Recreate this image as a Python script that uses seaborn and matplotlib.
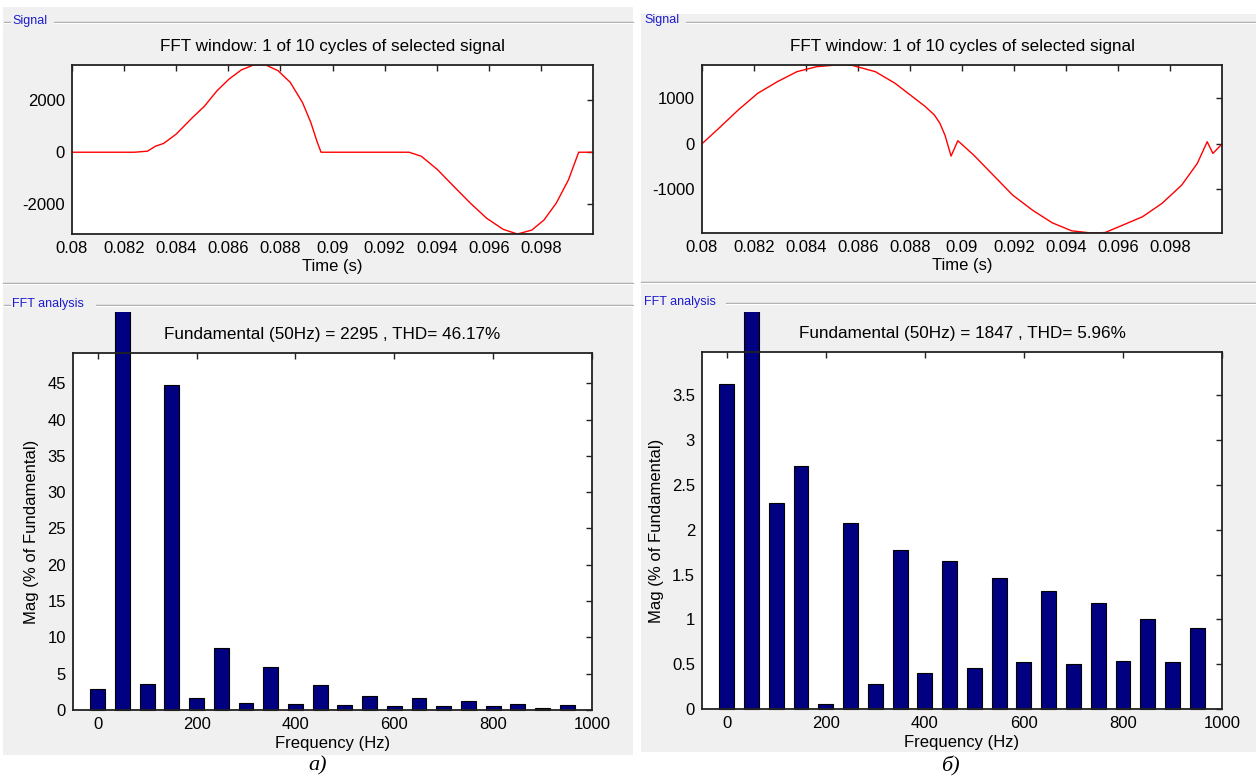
import matplotlib
matplotlib.use('Agg')
import matplotlib.pyplot as plt
import seaborn as sns
import pandas as pd
from matplotlib.patches import Rectangle
from matplotlib.lines import Line2D
from matplotlib.transforms import Bbox, TransformedBbox

# --- данные, снятые с осциллограмм ---
# а) сигнал
time_a = [0.0800, 0.0824, 0.0829, 0.0832, 0.08352, 0.08399, 0.08462, 0.08509, 0.08556,
          0.08603, 0.0865, 0.08697, 0.08744, 0.08791, 0.08838, 0.08885, 0.08917, 0.0894,
          0.08956, 0.09294, 0.09341, 0.09403, 0.09466, 0.09529, 0.09592, 0.09655, 0.0971,
          0.09765, 0.09812, 0.09859, 0.09906, 0.09945, 0.1000]
sig_a = [0, 0, 40, 230, 340, 690, 1330, 1780, 2360,
         2820, 3170, 3360, 3360, 3140, 2690, 1910, 1140, 430,
         0, 0, -155, -670, -1320, -1960, -2545, -2970, -3150,
         -3000, -2610, -1960, -1060, 0, 0]

# б) сигнал
time_b = [0.0800, 0.08063, 0.08139, 0.08214, 0.0829, 0.08365, 0.08441, 0.08516, 0.08577,
          0.08667, 0.08743, 0.08818, 0.08856, 0.08894, 0.08915, 0.08935, 0.08958, 0.08984,
          0.09045, 0.0912, 0.09195, 0.09271, 0.09347, 0.09422, 0.09497, 0.0955, 0.09618,
          0.09694, 0.09769, 0.09845, 0.09905, 0.09943, 0.09965, 0.1000]
sig_b = [0, 330, 740, 1106, 1363, 1582, 1692, 1729, 1722,
         1582, 1326, 996, 830, 630, 450, 180, -271, 66,
         -249, -689, -1128, -1458, -1736, -1912, -1960, -1950, -1788,
         -1604, -1311, -908, -432, 44, -212, -7]

# гармоники, % от основной
freq = [0, 50, 100, 150, 200, 250, 300, 350, 400, 450, 500,
        550, 600, 650, 700, 750, 800, 850, 900, 950]
mag_a = [2.9, 100, 3.6, 44.7, 1.6, 8.5, 1.0, 5.9, 0.85, 3.4, 0.7,
         1.95, 0.5, 1.6, 0.5, 1.2, 0.5, 0.85, 0.32, 0.7]
mag_b = [3.62, 100, 2.30, 2.71, 0.06, 2.07, 0.28, 1.77, 0.40, 1.65, 0.46,
         1.46, 0.52, 1.32, 0.50, 1.18, 0.53, 1.00, 0.52, 0.90]

time_ticks = [0.080, 0.082, 0.084, 0.086, 0.088, 0.090, 0.092, 0.094, 0.096, 0.098]
time_labels = ['0.08', '0.082', '0.084', '0.086', '0.088', '0.09', '0.092', '0.094', '0.096', '0.098']
freq_ticks = [0, 200, 400, 600, 800, 1000]
sig_ticks_a = [-2000, 0, 2000]
sig_ticks_b = [-1000, 0, 1000]
mag_ticks_a = [0, 5, 10, 15, 20, 25, 30, 35, 40, 45]
mag_ticks_b = [0, 0.5, 1, 1.5, 2, 2.5, 3, 3.5]
mag_labels_b = ['0', '0.5', '1', '1.5', '2', '2.5', '3', '3.5']

sig_title = 'FFT window: 1 of 10 cycles of selected signal'
fft_title_a = 'Fundamental (50Hz) = 2295 , THD= 46.17%'
fft_title_b = 'Fundamental (50Hz) = 1847 , THD= 5.96%'

sns.set_theme(style='white')
plt.rcParams['font.family'] = ['Liberation Sans', 'DejaVu Sans']
plt.rcParams['axes.unicode_minus'] = False
plt.rcParams['text.color'] = 'black'
plt.rcParams['axes.labelcolor'] = 'black'
plt.rcParams['xtick.color'] = 'black'
plt.rcParams['ytick.color'] = 'black'

W, H = 1256, 780
fig = plt.figure(figsize=(W / 100, H / 100), dpi=100)
fig.patch.set_facecolor('white')


def box(x0, y0, x1, y1):
    # пиксели картинки -> доли фигуры
    return [x0 / W, 1 - y1 / H, (x1 - x0) / W, (y1 - y0) / H]


def hline(x0, x1, y):
    fig.add_artist(Line2D([x0 / W, x1 / W], [1 - y / H, 1 - y / H], color='#a0a0a0', lw=1))
    fig.add_artist(Line2D([x0 / W, x1 / W], [1 - (y + 1) / H, 1 - (y + 1) / H], color='white', lw=1))


# серые панели
for (x0, y0, x1, y1) in [(3, 7, 633, 755), (641, 14, 1256, 752)]:
    fig.add_artist(Rectangle((x0 / W, 1 - y1 / H), (x1 - x0) / W, (y1 - y0) / H,
                             transform=fig.transFigure, facecolor='#f0f0f0', edgecolor='none', zorder=0))

# рамки групп
hline(4, 10, 22)
hline(54, 633, 22)
hline(686, 1256, 22)
hline(3, 633, 283)
hline(641, 1256, 282)
hline(4, 10, 305)
hline(96, 633, 305)
hline(726, 1256, 303)
grp = dict(color='#1c1ccc', fontsize=9, va='center', ha='left')
fig.text(12 / W, 1 - 21 / H, 'Signal', **grp)
fig.text(644 / W, 1 - 20 / H, 'Signal', **grp)
fig.text(12 / W, 1 - 304 / H, 'FFT analysis', **grp)
fig.text(644 / W, 1 - 302 / H, 'FFT analysis', **grp)


def style_axes(ax):
    ax.set_facecolor('white')
    for s in ax.spines.values():
        s.set_color('#222222')
        s.set_linewidth(1.3)
    ax.tick_params(direction='in', top=True, right=True, length=4, width=1,
                   color='#222222', labelcolor='black', labelsize=12, pad=5)


panels = [
    (box(72, 65, 593, 234), box(73, 353, 592, 710), time_a, sig_a, sig_ticks_a,
     mag_a, mag_ticks_a, None, fft_title_a, 'а)', 318),
    (box(702, 65, 1222, 233), box(702, 352, 1222, 709), time_b, sig_b, sig_ticks_b,
     mag_b, mag_ticks_b, mag_labels_b, fft_title_b, 'б)', 950),
]

for (sbox, fbox, t, v, sticks, mag, mticks, mlabels, ftitle, letter, lx) in panels:
    # сигнал
    ax = fig.add_axes(sbox)
    sns.lineplot(x=t, y=v, ax=ax, color='red', lw=1, estimator=None)
    ax.set_xlim(0.08, 0.1)
    ax.set_ylim(min(v), max(v))
    ax.set_xticks(time_ticks)
    ax.set_xticklabels(time_labels)
    ax.set_yticks(sticks)
    ax.set_xlabel('Time (s)', fontsize=12, labelpad=2)
    ax.set_title(sig_title, fontsize=12.3, pad=10)
    style_axes(ax)

    # спектр
    ax2 = fig.add_axes(fbox)
    df = pd.DataFrame({'f': freq, 'mag': mag})
    sns.barplot(data=df, x='f', y='mag', native_scale=True, width=0.6,
                color='#000080', saturation=1, edgecolor='black', linewidth=0.8, ax=ax2)
    ax2.set_xlim(-50, 1000)
    ax2.set_ylim(0, 1.1 * sorted(mag)[-2])
    ax2.set_xticks(freq_ticks)
    ax2.set_yticks(mticks)
    if mlabels:
        ax2.set_yticklabels(mlabels)
    ax2.set_xlabel('Frequency (Hz)', fontsize=12, labelpad=3)
    ax2.set_ylabel('Mag (% of Fundamental)', fontsize=12, labelpad=6)
    ax2.set_title(ftitle, fontsize=12.3, pad=10)
    style_axes(ax2)
    # бар основной гармоники выходит за оси, как в MATLAB
    clip = TransformedBbox(Bbox([[0, 0], [1, 1 - 312 / H]]), fig.transFigure)
    for p in ax2.patches:
        p.set_clip_path(None)
        p.set_clip_box(clip)

    fig.text(lx / W, 1 - 766 / H, letter, family=['Liberation Serif', 'DejaVu Serif'],
             style='italic', fontsize=16, ha='center', va='center', color='black')

fig.savefig('out.png', dpi=100)
